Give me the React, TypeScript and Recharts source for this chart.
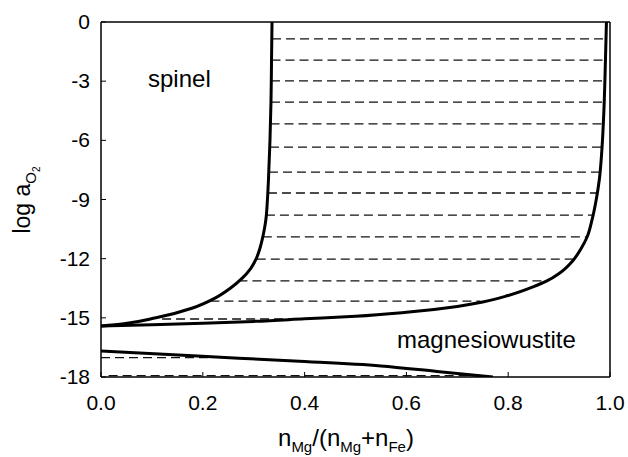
import React from 'react'
import { ComposedChart, Line, XAxis, YAxis, ReferenceLine, Customized } from 'recharts';

// phase boundaries
const leftCurveY = [0, -2, -4, -6, -8, -9, -10, -10.5, -11, -11.5, -12, -12.5, -13, -13.5, -14, -14.5, -15, -15.3, -15.42];
const leftCurveX = [0.336, 0.335, 0.334, 0.332, 0.329, 0.327, 0.324, 0.321, 0.317, 0.312, 0.305, 0.294, 0.277, 0.254, 0.224, 0.18, 0.108, 0.045, 0];

const rightCurveX = [0, 0.1, 0.2, 0.3, 0.4, 0.5, 0.6, 0.7, 0.75, 0.8, 0.85, 0.876, 0.9, 0.927, 0.943, 0.955, 0.965, 0.973, 0.979, 0.984, 0.988, 0.991, 0.993];
const rightCurveY = [-15.42, -15.35, -15.27, -15.18, -15.05, -14.92, -14.72, -14.42, -14.2, -13.87, -13.42, -13.13, -12.75, -12.1, -11.5, -10.9, -10.0, -9.0, -8.0, -6.5, -4.5, -2, 0];

const lowerCurveX = [0, 0.19, 0.38, 0.55, 0.66, 0.77];
const lowerCurveY = [-16.68, -16.94, -17.19, -17.44, -17.72, -18];

// tie lines
const tieY = [-0.86, -1.93, -2.99, -4.06, -5.17, -6.34, -7.61, -8.67, -9.79, -10.9, -12.02, -13.13, -14.15, -15.06, -17.02, -17.93];
const tieLeft = [0.336, 0.335, 0.334, 0.334, 0.333, 0.332, 0.330, 0.328, 0.324, 0.318, 0.306, 0.270, 0.215, 0.12, 0, 0.015];
const tieRight = [0.991, 0.991, 0.990, 0.989, 0.987, 0.985, 0.981, 0.976, 0.968, 0.954, 0.928, 0.876, 0.745, 0.40, 0.21, 0.76];

const xTicks = [0, 0.2, 0.4, 0.6, 0.8, 1.0];
const yTicks = [-18, -15, -12, -9, -6, -3, 0];

const font = '"Liberation Sans", Arial, sans-serif';

const toPts = (xs: number[], ys: number[]) => xs.map((x, i) => ({ x, y: ys[i] }));

const XTick = (props: any) => {
    const { x, y, payload } = props;
    return (
        <g>
            <line x1={x} x2={x} y1={y} y2={y - 5} stroke="#000" strokeWidth={1} />
            <text x={x} y={y + 33} textAnchor="middle" fontSize={21} fontFamily={font} fill="#000">
                {Number(payload.value).toFixed(1)}
            </text>
        </g>
    );
};

const YTick = (props: any) => {
    const { x, y, payload } = props;
    return (
        <g>
            <line x1={x} x2={x + 5} y1={y} y2={y} stroke="#000" strokeWidth={1} />
            <text x={x - 11} y={y + 7} textAnchor="end" fontSize={21} fontFamily={font} fill="#000">
                {payload.value}
            </text>
        </g>
    );
};

const Labels = () => (
    <g fontFamily={font} fill="#000">
        <text x={148} y={87} fontSize={24}>spinel</text>
        <text x={397} y={348} fontSize={24}>magnesiowustite</text>
        <text x={346} y={446} textAnchor="middle" fontSize={24}>
            n<tspan dy={6} fontSize={15}>Mg</tspan>
            <tspan dy={-6}>/(n</tspan>
            <tspan dy={6} fontSize={15}>Mg</tspan>
            <tspan dy={-6}>+n</tspan>
            <tspan dy={6} fontSize={15}>Fe</tspan>
            <tspan dy={-6}>)</tspan>
        </text>
        <text transform="translate(30,200) rotate(-90)" textAnchor="middle" fontSize={23}>
            log a<tspan dy={6} fontSize={15}>O</tspan>
            <tspan dy={4} fontSize={10}>2</tspan>
        </text>
    </g>
);

const App: React.FC = () => {
    return (
        <div style={{ position: 'absolute', left: 0, top: 0, background: '#fff' }}>
            <ComposedChart width={628} height={457} margin={{ top: 22, right: 18, bottom: 0, left: 41 }}>
                <XAxis type="number" dataKey="x" domain={[0, 1]} ticks={xTicks} height={80}
                    axisLine={{ stroke: '#000', strokeWidth: 1.5 }} tickLine={false} tickSize={0} tickMargin={0}
                    tick={<XTick />} allowDataOverflow />
                <YAxis type="number" dataKey="y" domain={[-18, 0]} ticks={yTicks} width={60}
                    axisLine={{ stroke: '#000', strokeWidth: 1.5 }} tickLine={false} tickSize={0} tickMargin={0}
                    tick={<YTick />} allowDataOverflow />
                <ReferenceLine y={0} stroke="#000" strokeWidth={1.5} />
                <ReferenceLine x={1} stroke="#000" strokeWidth={1.5} />
                {tieY.map((y, i) => (
                    <Line key={'tie' + i} data={[{ x: tieLeft[i], y }, { x: tieRight[i], y }]} dataKey="y"
                        type="linear" stroke="#111" strokeWidth={1.3} strokeDasharray="9 5" dot={false}
                        isAnimationActive={false} />
                ))}
                <Line data={toPts(leftCurveX, leftCurveY)} dataKey="y" type="monotoneY" stroke="#000" strokeWidth={3}
                    dot={false} isAnimationActive={false} />
                <Line data={toPts(rightCurveX, rightCurveY)} dataKey="y" type="monotoneY" stroke="#000" strokeWidth={3}
                    dot={false} isAnimationActive={false} />
                <Line data={toPts(lowerCurveX, lowerCurveY)} dataKey="y" type="monotoneX" stroke="#000" strokeWidth={3}
                    dot={false} isAnimationActive={false} />
                <Customized component={<Labels />} />
            </ComposedChart>
        </div>
    )
}

export default App
